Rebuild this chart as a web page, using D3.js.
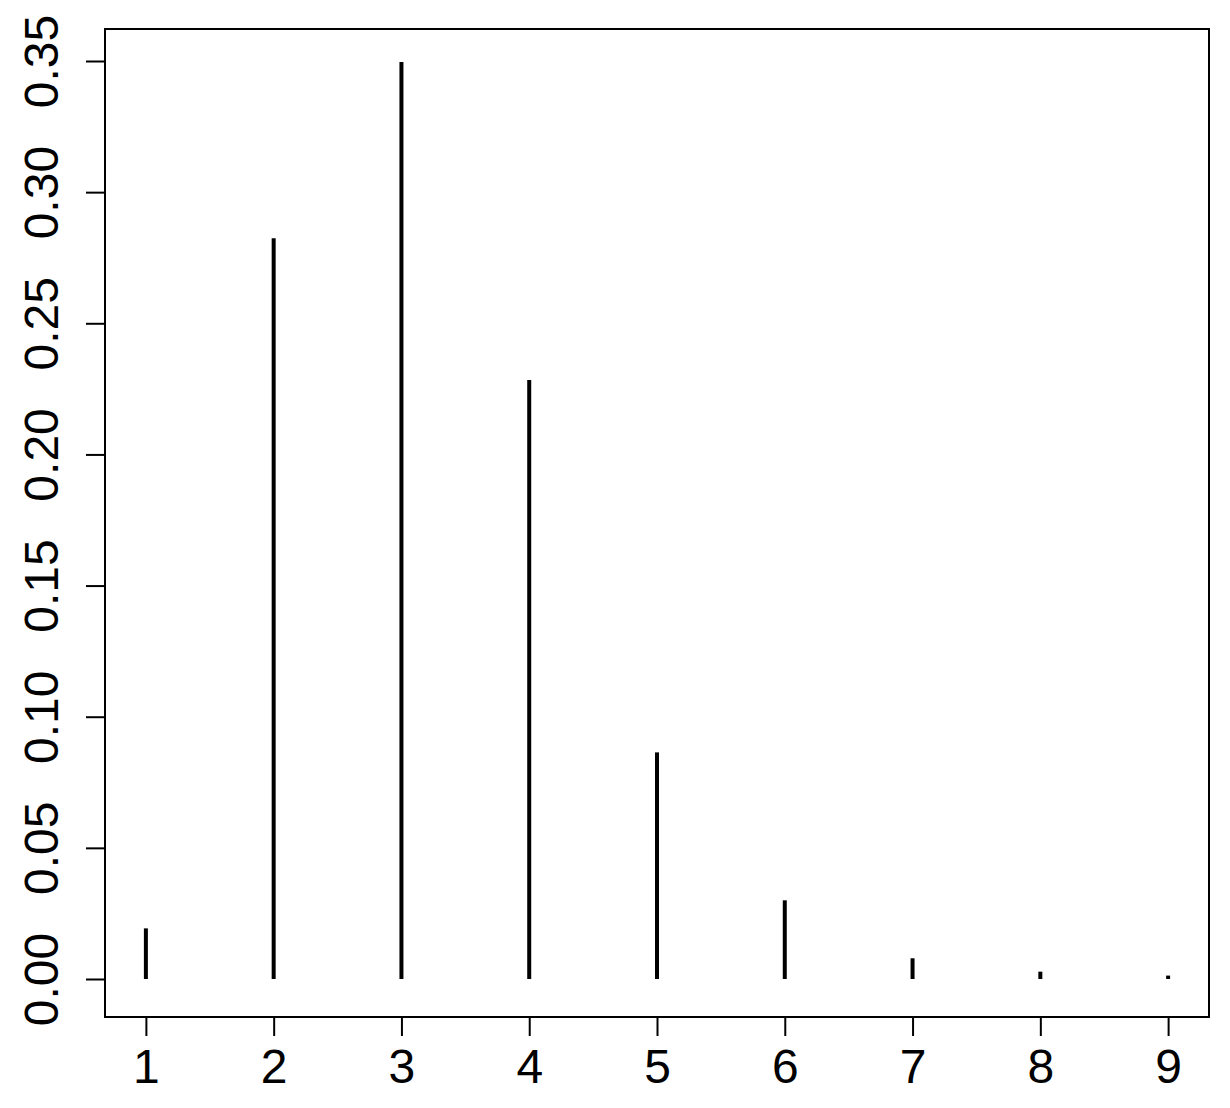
<!DOCTYPE html>
<html>
<head>
<meta charset="utf-8">
<script src="https://cdn.jsdelivr.net/npm/d3@7"></script>
<style>
  body { margin: 0; background: #fff; }
  svg text { font-family: "Liberation Sans", Arial, sans-serif; font-size: 48px; fill: #000; }
</style>
</head>
<body>
<div id="chart"></div>
<script>
// probability values
var xValues = [1, 2, 3, 4, 5, 6, 7, 8, 9];
var probs = [0.0193, 0.2824, 0.3496, 0.2284, 0.0864, 0.0300, 0.0079, 0.0028, 0.0013];
var yTicks = [0, 0.05, 0.10, 0.15, 0.20, 0.25, 0.30, 0.35];

var width = 1230, height = 1108;
var box = { left: 105, right: 1209, top: 29, bottom: 1017 };

var svg = d3.select("#chart")
  .append("svg")
  .attr("width", width)
  .attr("height", height);

var x = d3.scaleLinear().domain([0.68, 9.32]).range([box.left, box.right]);
var y = d3.scaleLinear().domain([-0.01449, 0.3622]).range([box.bottom, box.top]);

// spikes (type = "h")
svg.append("g")
  .selectAll("line")
  .data(xValues)
  .enter()
  .append("line")
  .attr("x1", function(d) { return x(d); })
  .attr("x2", function(d) { return x(d); })
  .attr("y1", y(0))
  .attr("y2", function(d, i) { return y(probs[i]); })
  .attr("stroke", "#000")
  .attr("stroke-width", 4);

// box
svg.append("rect")
  .attr("x", box.left)
  .attr("y", box.top)
  .attr("width", box.right - box.left)
  .attr("height", box.bottom - box.top)
  .attr("fill", "none")
  .attr("stroke", "#000")
  .attr("stroke-width", 2);

// x axis
var xAxis = svg.append("g")
  .attr("transform", "translate(0," + box.bottom + ")")
  .call(d3.axisBottom(x).tickValues(xValues).tickFormat(d3.format("d")).tickSize(19).tickSizeOuter(0));
xAxis.select(".domain").remove();
xAxis.selectAll(".tick line").attr("stroke", "#000").attr("stroke-width", 2);
xAxis.selectAll(".tick text")
  .attr("y", 66)
  .attr("dy", 0)
  .style("font-size", "48px")
  .style("font-family", "Liberation Sans, Arial, sans-serif");

// y axis
var yAxis = svg.append("g")
  .attr("transform", "translate(" + box.left + ",0)")
  .call(d3.axisLeft(y).tickValues(yTicks).tickFormat(d3.format(".2f")).tickSize(19).tickSizeOuter(0));
yAxis.select(".domain").remove();
yAxis.selectAll(".tick line").attr("stroke", "#000").attr("stroke-width", 2);
yAxis.selectAll(".tick text")
  .attr("x", null)
  .attr("dy", null)
  .attr("transform", "translate(-47,0) rotate(-90)")
  .attr("text-anchor", "middle")
  .style("font-size", "48px")
  .style("font-family", "Liberation Sans, Arial, sans-serif");
</script>
</body>
</html>
